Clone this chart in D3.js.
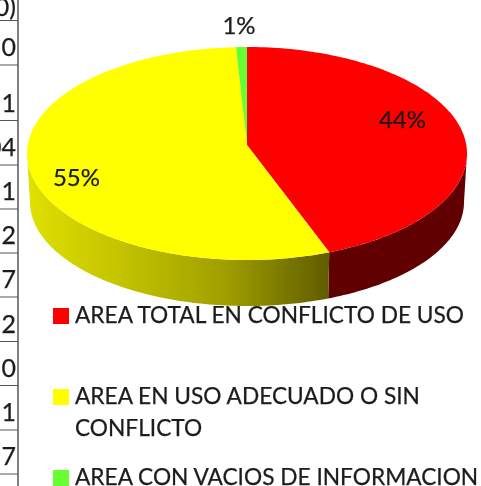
<!DOCTYPE html>
<html>
<head>
<meta charset="utf-8">
<script src="https://cdn.jsdelivr.net/npm/d3@7"></script>
<style>
	html, body {margin: 0; padding: 0; background: #fff;}
	svg {display: block;}
	text {font-family: Lato, "Open Sans", sans-serif; fill: #1c1c1c; stroke: #1c1c1c; stroke-width: 0.25px;}
</style>
</head>
<body>
<div id="chart"></div>
<script>
(function(){
	var categories = ['AREA TOTAL EN CONFLICTO DE USO', 'AREA EN USO ADECUADO O SIN CONFLICTO', 'AREA CON VACIOS DE INFORMACION'];
	var legendLines = [['AREA TOTAL EN CONFLICTO DE USO'], ['AREA EN USO ADECUADO O SIN', 'CONFLICTO'], ['AREA CON VACIOS DE INFORMACION']];
	var values = [43.9, 55.3, 0.8];
	var colors = ['#ff0000', '#ffff00', '#66ff33'];
	var tableCells = ['0)', '0', '1', '04', '1', '2', '7', '2', '0', '1', '97'];
	var tableBaselines = [16, 56, 112, 156, 200, 244, 288, 333, 377, 421, 465];
	var tableRules = [20.5, 65, 120.5, 165, 209, 253, 297, 341.5, 385.5, 430, 474];

	var width = 481, height = 486;
	var cx = 247, cy = 153.5, rx = 220, ry = 106.5;
	var apexY = 145;
	var baseCy = 202, baseRx = 217, baseRy = 104;

	var color = d3.scaleOrdinal().domain(categories).range(colors);

	var svg = d3.select('#chart').append('svg')
		.attr('width', width)
		.attr('height', height);

	var defs = svg.append('defs');
	defs.append('filter').attr('id', 'soft')
		.append('feGaussianBlur').attr('stdDeviation', 0.4);

	var grad = defs.append('linearGradient').attr('id', 'wallYellow')
		.attr('gradientUnits', 'userSpaceOnUse')
		.attr('x1', 27).attr('x2', 329).attr('y1', 0).attr('y2', 0);
	grad.append('stop').attr('offset', '0%').attr('stop-color', '#e0e000');
	grad.append('stop').attr('offset', '30%').attr('stop-color', '#c4c400');
	grad.append('stop').attr('offset', '65%').attr('stop-color', '#a0a000');
	grad.append('stop').attr('offset', '100%').attr('stop-color', '#605c00');

	// left edge of the table behind the chart
	var table = svg.append('g').attr('class', 'table');
	table.selectAll('line.rule')
		.data(tableRules)
		.enter().append('line')
			.attr('class', 'rule')
			.attr('x1', 0).attr('x2', 18)
			.attr('y1', function(d) {return d;})
			.attr('y2', function(d) {return d;})
			.style('stroke', '#555')
			.style('stroke-width', 1);
	table.append('line')
		.attr('x1', 18).attr('x2', 18)
		.attr('y1', 0).attr('y2', height)
		.style('stroke', '#555')
		.style('stroke-width', 1.5);
	table.selectAll('text')
		.data(tableCells)
		.enter().append('text')
			.attr('x', 16)
			.attr('y', function(d,i) {return tableBaselines[i];})
			.attr('text-anchor', 'end')
			.style('font-size', '25px')
			.text(function(d) {return d;});

	var slices = d3.pie().sort(null).value(function(d) {return d;})(values);

	// angle on the pie -> point on an ellipse, clockwise from the top
	var line = d3.line();
	function rim(a0, a1, ex, ey, ew, eh) {
		var steps = Math.max(2, Math.ceil(Math.abs(a1 - a0) / 0.02));
		return d3.range(steps + 1).map(function(i) {
			var a = a0 + (a1 - a0) * i / steps;
			return [ex + ew * Math.sin(a), ey - eh * Math.cos(a)];
		});
	}

	var pie = svg.append('g').attr('class', 'pie').attr('filter', 'url(#soft)');

	// walls first: only the front half of the rim shows
	var frontEnd = Math.PI * 1.5;
	var rightStart = Math.PI * 0.5;
	pie.append('path')
		.attr('d', line(rim(rightStart, slices[0].endAngle, cx, cy, rx, ry)
			.concat(rim(slices[0].endAngle, rightStart, cx, baseCy, baseRx, baseRy))) + 'Z')
		.style('fill', '#600000');
	pie.append('path')
		.attr('d', line(rim(slices[1].startAngle, frontEnd, cx, cy, rx, ry)
			.concat(rim(frontEnd, slices[1].startAngle, cx, baseCy, baseRx, baseRy))) + 'Z')
		.style('fill', 'url(#wallYellow)');

	pie.selectAll('path.slice')
		.data(slices)
		.enter().append('path')
			.attr('class', 'slice')
			.attr('d', function(d) {
				return line([[cx, apexY]].concat(rim(d.startAngle, d.endAngle, cx, cy, rx, ry))) + 'Z';
			})
			.style('fill', function(d,i) {return color(categories[i]);});

	var labelPos = [[402.5, 128], [76.5, 186], [239, 34]];
	var pct = d3.format('.0%');
	svg.append('g').selectAll('text')
		.data(slices)
		.enter().append('text')
			.attr('x', function(d,i) {return labelPos[i][0];})
			.attr('y', function(d,i) {return labelPos[i][1];})
			.attr('text-anchor', 'middle')
			.style('font-size', '24px')
			.text(function(d) {return pct(d.value / 100);});

	var legendY = [308, 389, 470];
	var legend = svg.append('g').selectAll('g')
		.data(categories)
		.enter().append('g')
			.attr('transform', function(d,i) {return 'translate(53,' + legendY[i] + ')';});
	legend.append('rect')
		.attr('width', 16).attr('height', 16)
		.style('fill', function(d) {return color(d);});
	legend.each(function(d,i) {
		d3.select(this).selectAll('text')
			.data(legendLines[i])
			.enter().append('text')
				.attr('x', 22)
				.attr('y', function(t,j) {return 15 + j * 32;})
				.style('font-size', '22.7px')
				.text(function(t) {return t;});
	});

	svg.selectAll('text').attr('filter', 'url(#soft)');
})();
</script>
</body>
</html>
